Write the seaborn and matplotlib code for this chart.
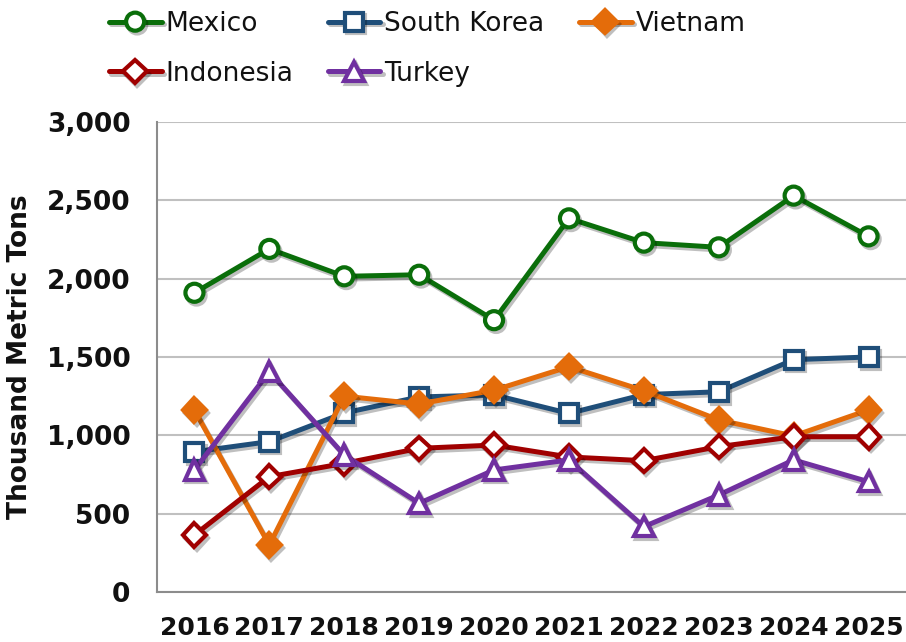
import seaborn as sns
import matplotlib.pyplot as plt
import matplotlib.patheffects as pe

years = [2016, 2017, 2018, 2019, 2020, 2021, 2022, 2023, 2024, 2025]
mexico = [1910, 2190, 2015, 2025, 1735, 2385, 2230, 2200, 2530, 2270]
south_korea = [895, 960, 1143, 1245, 1258, 1140, 1260, 1278, 1483, 1500]
vietnam = [1160, 300, 1250, 1200, 1288, 1438, 1285, 1098, 996, 1162]
indonesia = [364, 736, 821, 917, 938, 862, 838, 928, 991, 991]
turkey = [779, 1406, 874, 566, 779, 843, 417, 619, 843, 704]

series = [
    ("Mexico", mexico, "#0a6e0a", "o", "white"),
    ("South Korea", south_korea, "#1f4e79", "s", "white"),
    ("Vietnam", vietnam, "#e46c0a", "D", "#e46c0a"),
    ("Indonesia", indonesia, "#a00000", "D", "white"),
    ("Turkey", turkey, "#7030a0", "^", "white"),
]

sns.set_style("white")
fig = plt.figure(figsize=(9.06, 6.42), dpi=100)
ax = fig.add_axes([157/906, 50/642, 749/906, 470/642])

shadow = [pe.SimpleLineShadow(offset=(1.5, -2), alpha=0.25, shadow_color="black"), pe.Normal()]
for name, vals, col, mk, face in series:
    ms = 13 if mk in "os" else (14 if mk == "^" else 12)
    sns.lineplot(x=years, y=vals, ax=ax, color=col, linewidth=3.6, marker=mk,
                 markersize=ms, markerfacecolor=face, markeredgecolor=col,
                 markeredgewidth=3, path_effects=shadow, label=name, zorder=3)

h, l = ax.get_legend_handles_labels()
ax.get_legend().remove()
order = [0, 3, 1, 4, 2]
leg = fig.legend([h[i] for i in order], [l[i] for i in order], ncol=3,
                 loc="upper left", bbox_to_anchor=(85/906, 1.02), frameon=False,
                 fontsize=19, handlelength=2.0, handletextpad=0.15,
                 columnspacing=1.3, labelspacing=0.9)
for t in leg.get_texts():
    t.set_color("#111111")

ax.set_ylim(0, 3000)
ax.set_xlim(2015.5, 2025.5)
ax.set_yticks(range(0, 3001, 500))
ax.set_yticklabels([f"{v:,}" for v in range(0, 3001, 500)])
ax.yaxis.grid(True, color="#c0c0c0", linewidth=1.5, zorder=0)
ax.set_axisbelow(True)

ax.set_xticks([y - 0.5 for y in years])
ax.set_xticklabels([])
ax.set_xticks(years, minor=True)
ax.set_xticklabels([str(y) for y in years], minor=True)
ax.tick_params(axis="x", which="major", direction="out", length=9, width=1.5, color="#8c8c8c")
ax.tick_params(axis="x", which="minor", length=0, pad=17, labelsize=18)
ax.tick_params(axis="y", direction="out", length=9, width=1.5, color="#8c8c8c", pad=10, labelsize=19)
for lab in ax.get_xticklabels(minor=True) + ax.get_yticklabels():
    lab.set_fontweight("bold")
    lab.set_color("#111111")

for s in ["top", "right"]:
    ax.spines[s].set_visible(False)
for s in ["left", "bottom"]:
    ax.spines[s].set_color("#8c8c8c")
    ax.spines[s].set_linewidth(1.5)

ax.set_xlabel("")
ax.set_ylabel("Thousand Metric Tons", fontsize=19, fontweight="bold", color="#111111", labelpad=10)

fig.savefig("out.png", dpi=100)
